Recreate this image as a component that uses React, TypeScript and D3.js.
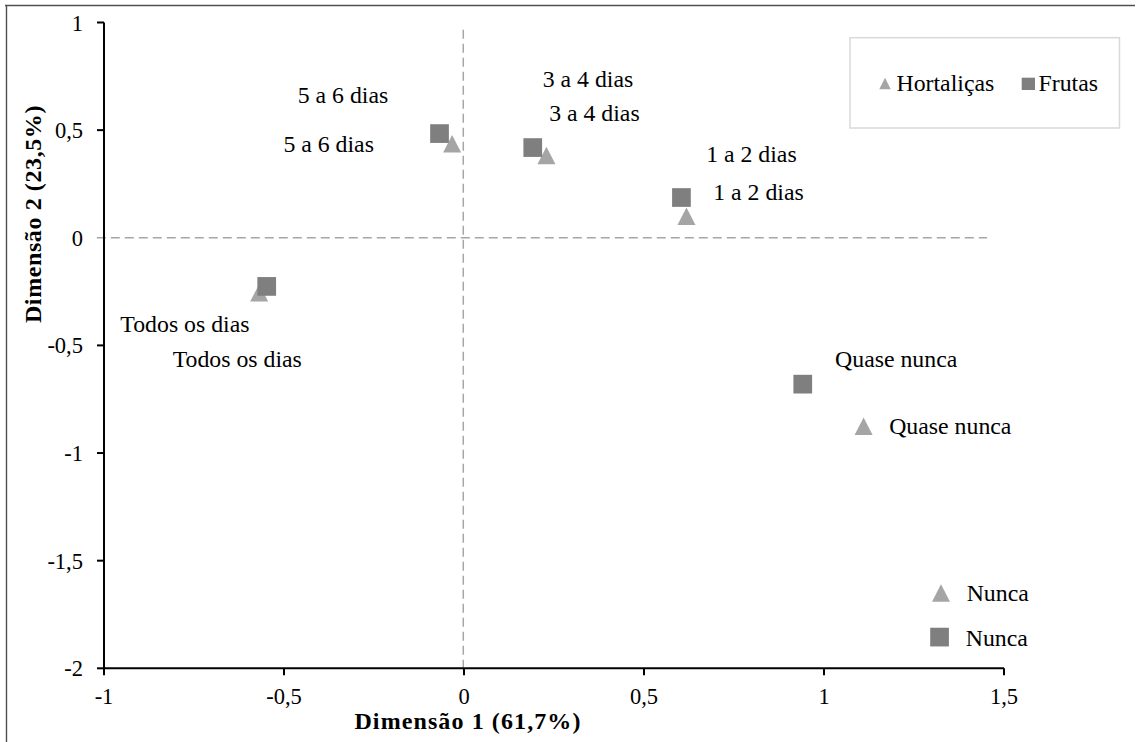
import React from "react";
import * as d3 from "d3";

// ---- data ----
const categories = ["Todos os dias", "5 a 6 dias", "3 a 4 dias", "1 a 2 dias", "Quase nunca", "Nunca"];
const frutasX = [-0.548, -0.068, 0.191, 0.604, 0.941, 1.321];
const frutasY = [-0.226, 0.484, 0.419, 0.187, -0.68, -1.855];
const hortalicasX = [-0.569, -0.033, 0.229, 0.618, 1.11, 1.325];
const hortalicasY = [-0.256, 0.437, 0.382, 0.1, -0.876, -1.65];
const xTicks = [-1, -0.5, 0, 0.5, 1, 1.5];
const yTicks = [1, 0.5, 0, -0.5, -1, -1.5, -2];
const refH = { x1: -1.02, x2: 1.453, y: 0 };
const refV = { x: -0.002, y1: 0.966, y2: -2 };

// label offsets (px, left edge / baseline relative to marker centre)
const frutasLabelOffsets = [
  [-146.4, 45.2], [-141.8, -30.2], [10, -60.2], [24.7, -35.8], [32.3, -16.9], [26.2, 8.8],
];
const hortalicasLabelOffsets = [
  [-86.5, 73.7], [-168.7, 8], [2.7, -34.8], [26.8, -16.3], [25.6, 7.5], [25.7, 7.7],
];

const W = 1139;
const H = 742;
const FONT = "'Liberation Serif', 'Times New Roman', Times, serif";
const SQ_COLOR = "#7f7f7f";
const TRI_COLOR = "#a5a5a5";
const fmt = (v: number) => String(v).replace(".", ",");

const tri = (w: number, h: number) => `M0,${-h / 2}L${w / 2},${h / 2}L${-w / 2},${h / 2}Z`;

export default function App() {
  const x = d3.scaleLinear().domain([-1, 1.5]).range([104, 1004]);
  const y = d3.scaleLinear().domain([-2, 1]).range([668.3, 22.5]);
  const x0 = x(-1);
  const y0 = y(-2);

  const sq = 18.7;
  const tw = 18;
  const th = 17.5;

  return (
    <svg
      width={W}
      height={H}
      style={{ position: "absolute", left: 0, top: 0, background: "#fff", fontFamily: FONT }}
    >
      <rect x={0} y={0} width={W} height={H} fill="#fff" />
      {/* outer frame */}
      <line x1={5} y1={5.5} x2={1135} y2={5.5} stroke="#505050" strokeWidth={1.4} />
      <line x1={6.5} y1={5} x2={6.5} y2={H} stroke="#505050" strokeWidth={1.4} />

      {/* reference dashed lines */}
      <line
        x1={x(refH.x1)} x2={x(refH.x2)} y1={y(refH.y)} y2={y(refH.y)}
        stroke="#a6a6a6" strokeWidth={1.5} strokeDasharray="9,5"
      />
      <line
        x1={x(refV.x)} x2={x(refV.x)} y1={y(refV.y1)} y2={y(refV.y2)}
        stroke="#a6a6a6" strokeWidth={1.5} strokeDasharray="9,5"
      />

      {/* axes */}
      <line x1={x0} x2={x(1.5)} y1={y0} y2={y0} stroke="#000" strokeWidth={2} />
      <line x1={x0} x2={x0} y1={y(1)} y2={y0} stroke="#000" strokeWidth={2} />
      {xTicks.map((t) => (
        <g key={"xt" + t}>
          <line x1={x(t)} x2={x(t)} y1={y0} y2={y0 + 7} stroke="#000" strokeWidth={2} />
          <text x={x(t)} y={704} textAnchor="middle" fontSize={22.5} fill="#000">
            {fmt(t)}
          </text>
        </g>
      ))}
      {yTicks.map((t) => (
        <g key={"yt" + t}>
          {t !== 0 && <line x1={x0 - 7} x2={x0} y1={y(t)} y2={y(t)} stroke="#000" strokeWidth={2} />}
          <text x={83} y={y(t) + 8} textAnchor="end" fontSize={22.5} fill="#000">
            {fmt(t)}
          </text>
        </g>
      ))}

      {/* axis titles */}
      <text x={468} y={729} textAnchor="middle" fontSize={24} fontWeight="bold" letterSpacing={1.1} fill="#000">
        Dimensão 1 (61,7%)
      </text>
      <text
        transform={`translate(41,214) rotate(-90)`}
        textAnchor="middle"
        fontSize={24}
        fontWeight="bold"
        letterSpacing={0.6}
        fill="#000"
      >
        Dimensão 2 (23,5%)
      </text>

      {/* Hortaliças (triangles) */}
      {hortalicasX.map((v, i) => (
        <path
          key={"h" + i}
          d={tri(tw, th)}
          transform={`translate(${x(v)},${y(hortalicasY[i])})`}
          fill={TRI_COLOR}
        />
      ))}
      {/* Frutas (squares) */}
      {frutasX.map((v, i) => (
        <rect
          key={"f" + i}
          x={x(v) - sq / 2}
          y={y(frutasY[i]) - sq / 2}
          width={sq}
          height={sq}
          fill={SQ_COLOR}
        />
      ))}

      {/* labels */}
      {hortalicasX.map((v, i) => (
        <text
          key={"hl" + i}
          x={x(v) + hortalicasLabelOffsets[i][0]}
          y={y(hortalicasY[i]) + hortalicasLabelOffsets[i][1]}
          fontSize={23.8}
          fill="#000"
        >
          {categories[i]}
        </text>
      ))}
      {frutasX.map((v, i) => (
        <text
          key={"fl" + i}
          x={x(v) + frutasLabelOffsets[i][0]}
          y={y(frutasY[i]) + frutasLabelOffsets[i][1]}
          fontSize={23.8}
          fill="#000"
        >
          {categories[i]}
        </text>
      ))}

      {/* legend */}
      <rect x={850} y={37.7} width={269.5} height={90.3} fill="#fff" stroke="#d9d9d9" strokeWidth={1.5} />
      <path d={tri(11.5, 11.5)} transform="translate(885,83.5)" fill={TRI_COLOR} />
      <text x={896.5} y={90.7} fontSize={23.8} fill="#000">Hortaliças</text>
      <rect x={1021.7} y={77.7} width={13.3} height={12.3} fill={SQ_COLOR} />
      <text x={1038.5} y={90.7} fontSize={23.8} fill="#000">Frutas</text>
    </svg>
  );
}
